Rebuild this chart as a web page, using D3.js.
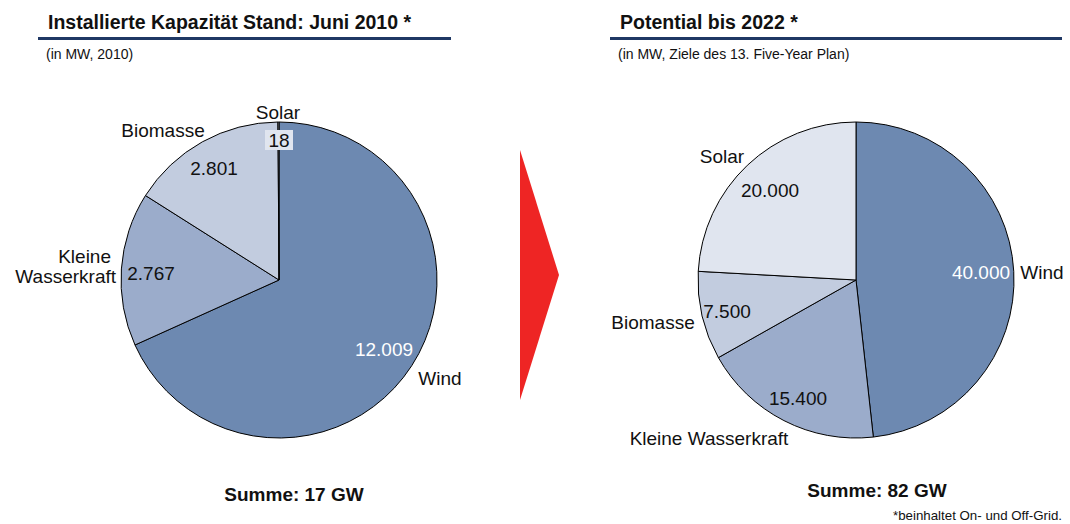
<!DOCTYPE html>
<html><head><meta charset="utf-8">
<script src="https://cdn.jsdelivr.net/npm/d3@7"></script>
<style>
body{margin:0;background:#fff;}
svg{display:block;font-family:"Liberation Sans",Arial,sans-serif;}
</style></head>
<body>
<svg id="c" width="1070" height="524"></svg>
<script>
// Data
const categories = ["Wind", "Kleine Wasserkraft", "Biomasse", "Solar"];
const values2010 = [12009, 2767, 2801, 18];
const values2022 = [40000, 15400, 7500, 20000];
const valueLabels2010 = ["12.009", "2.767", "2.801", "18"];
const valueLabels2022 = ["40.000", "15.400", "7.500", "20.000"];
const sums = ["Summe: 17 GW", "Summe: 82 GW"];

const colors = ["#6d89b1", "#9baccb", "#c2ccdf", "#e0e5ef"];
const svg = d3.select("#c");
const color = d3.scaleOrdinal().domain(categories).range(colors);

function header(x0, x1, tx, title, sub) {
  svg.append("text").attr("x", tx).attr("y", 29).attr("font-size", 19.5).attr("font-weight", "bold").attr("fill", "#111").text(title);
  svg.append("line").attr("x1", x0).attr("x2", x1).attr("y1", 38.5).attr("y2", 38.5).attr("stroke", "#1f3864").attr("stroke-width", 3);
  svg.append("text").attr("x", tx - 2).attr("y", 59).attr("font-size", 14).attr("fill", "#111").text(sub);
}
header(38, 451, 48, "Installierte Kapazität Stand: Juni 2010 *", "(in MW, 2010)");
header(610, 1062, 620, "Potential bis 2022 *", "(in MW, Ziele des 13. Five-Year Plan)");

const R = 158;
const pie = d3.pie().sort(null).value(d => d.v);
const arc = d3.arc().innerRadius(0).outerRadius(R);

function drawPie(cx, cy, vals, labels, layout) {
  const data = categories.map((c, i) => ({c, v: vals[i], l: labels[i]}));
  const g = svg.append("g").attr("transform", `translate(${cx},${cy})`);
  g.selectAll("path").data(pie(data)).join("path")
    .attr("d", arc).attr("fill", d => color(d.data.c))
    .attr("stroke", "#000").attr("stroke-width", 1);
  layout.forEach(L => {
    if (L.box) {
      g.append("rect").attr("x", L.x - 14).attr("y", L.y - 10).attr("width", 28).attr("height", 20).attr("fill", "#e0e5ef");
    }
    const txt = L.val !== undefined ? data[L.val].l : L.text;
    g.append("text").attr("x", L.x).attr("y", L.y).attr("font-size", 19)
      .attr("text-anchor", L.anchor || "middle").attr("dy", "0.35em")
      .attr("fill", L.white ? "#fff" : "#111").text(txt);
  });
}

drawPie(279, 280, values2010, valueLabels2010, [
  {val: 0, x: 105, y: 69, white: true},
  {text: categories[0], x: 161, y: 98},
  {val: 1, x: -128, y: -7},
  {text: "Kleine", x: -168, y: -24, anchor: "end"},
  {text: "Wasserkraft", x: -163, y: -4, anchor: "end"},
  {val: 2, x: -65, y: -112},
  {text: categories[2], x: -116, y: -150},
  {val: 3, x: 0, y: -140, box: true},
  {text: categories[3], x: -1, y: -168}
]);

drawPie(856, 280, values2022, valueLabels2022, [
  {val: 0, x: 125, y: -8, white: true},
  {text: categories[0], x: 186, y: -8},
  {val: 1, x: -58, y: 118},
  {text: categories[1], x: -147, y: 158},
  {val: 2, x: -129, y: 31},
  {text: categories[2], x: -203, y: 42},
  {val: 3, x: -86, y: -90},
  {text: categories[3], x: -134, y: -124}
]);

// Arrow
svg.append("path").attr("d", "M520,150 L559,275 L520,400 Z").attr("fill", "#ee2524");

svg.append("text").attr("x", 294).attr("y", 501).attr("text-anchor", "middle").attr("font-size", 19).attr("font-weight", "bold").attr("fill", "#111").text(sums[0]);
svg.append("text").attr("x", 877).attr("y", 497).attr("text-anchor", "middle").attr("font-size", 19).attr("font-weight", "bold").attr("fill", "#111").text(sums[1]);
svg.append("text").attr("x", 1062).attr("y", 520).attr("text-anchor", "end").attr("font-size", 13.3).attr("fill", "#111").text("*beinhaltet On- und Off-Grid.");
</script>
</body></html>
